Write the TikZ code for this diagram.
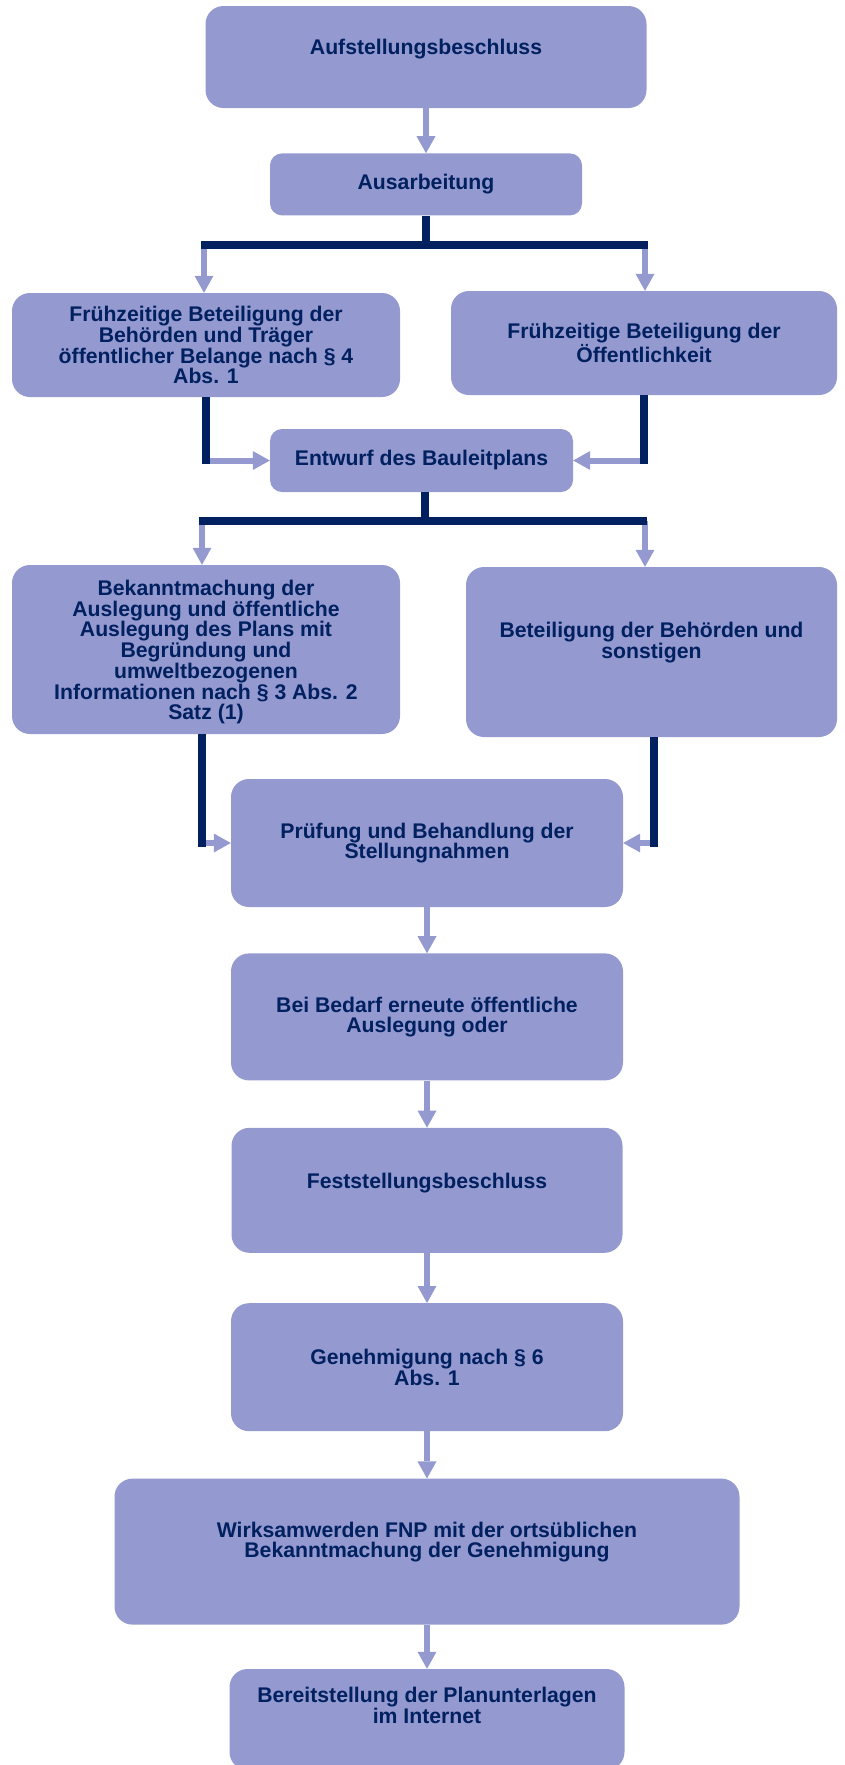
\documentclass[tikz,border=0pt]{standalone}
\usepackage{fontspec}
\setmainfont{Liberation Sans}
\usetikzlibrary{positioning,arrows.meta}
\definecolor{boxfill}{RGB}{148,153,208}
\definecolor{navy}{RGB}{0,32,96}
\begin{document}
\begin{tikzpicture}[x=1pt, y=-1pt, node distance=45pt,
  main node/.style={rectangle, rounded corners=18pt, fill=boxfill, text=navy, align=center, inner sep=0pt},
  small node/.style={main node, rounded corners=12pt},
  bus line/.style={draw=navy, line width=7.5pt},
  flow/.style={color=boxfill, line width=6pt, -{Triangle[width=19pt,length=17pt,line width=0pt]}}]
        \tikzstyle{every node}=[font=\fontsize{21.2}{19.8}\selectfont\bfseries]
        \useasboundingbox (0,0) rectangle (845,1765);

          \node[main node, minimum width=441pt, minimum height=102pt, text depth=20pt] (1) at (426,57) {Aufstellungsbeschluss};
          \node[small node, minimum width=312pt, minimum height=62pt] (2) [below=45pt of 1] {Ausarbeitung};
          \node[main node, minimum width=388pt, minimum height=104pt] (3) at (206,345) {Frühzeitige Beteiligung der\\Behörden und Träger\\öffentlicher Belange nach § 4\\Abs. 1};
          \node[main node, minimum width=386pt, minimum height=104pt] (4) at (644,343) {Frühzeitige Beteiligung der\\Öffentlichkeit};
          \node[small node, minimum width=303pt, minimum height=63pt] (5) at (421.5,460.5) {Entwurf des Bauleitplans};
          \node[main node, minimum width=388pt, minimum height=169pt, text depth=0pt] (6) at (206,649.5) {Bekanntmachung der\\Auslegung und öffentliche\\Auslegung des Plans mit\\Begründung und\\umweltbezogenen\\Informationen nach § 3 Abs. 2\\Satz (1)};
          \node[main node, minimum width=371pt, minimum height=170pt, text depth=24pt] (7) at (651.5,652) {Beteiligung der Behörden und\\sonstigen};
          \node[main node, minimum width=392pt, minimum height=128pt] (8) at (427,843) {Prüfung und Behandlung der\\Stellungnahmen};
          \node[main node, minimum width=392pt, minimum height=127pt] (9) [below=46pt of 8] {Bei Bedarf erneute öffentliche\\Auslegung oder};
          \node[main node, minimum width=391pt, minimum height=125pt, text depth=18pt] (10) [below=47pt of 9] {Feststellungsbeschluss};
          \node[main node, minimum width=392pt, minimum height=128pt] (11) [below=50pt of 10] {Genehmigung nach § 6\\Abs. 1};
          \node[main node, minimum width=625pt, minimum height=146pt, text depth=23pt] (12) [below=47pt of 11] {Wirksamwerden FNP mit der ortsüblichen\\Bekanntmachung der Genehmigung};
          \node[main node, minimum width=395pt, minimum height=101pt, text depth=29pt] (13) [below=44pt of 12] {Bereitstellung der Planunterlagen\\im Internet};

          \coordinate (b1) at (426,245);
          \coordinate (b1l) at (201,245);
          \coordinate (b1r) at (648,245);
          \coordinate (m1l) at (206,464);
          \coordinate (m1r) at (644,464);
          \coordinate (b2) at (425,521);
          \coordinate (b2l) at (199,521);
          \coordinate (b2r) at (647,521);
          \coordinate (m2l) at (202,847);
          \coordinate (m2r) at (654,847);

          \path[flow]
            (1) edge (2)
            (8) edge (9)
            (9) edge (10)
            (10) edge (11)
            (11) edge (12)
            (12) edge (13)
            (204,245) edge (3.north -| 204,0)
            (645,245) edge (4.north -| 645,0)
            (m1l |- 5.west) edge (5.west)
            (m1r |- 5.east) edge (5.east)
            (202,521) edge (6.north -| 202,0)
            (645,521) edge (7.north -| 645,0)
            (m2l |- 8.west) edge (8.west)
            (m2r |- 8.east) edge (8.east);

          \draw[bus line] (2) -- (b1) (b1l) -- (b1r);
          \draw[bus line] (3) -- (m1l) (4) -- (m1r);
          \draw[bus line] (5.south -| b2) -- (b2) (b2l) -- (b2r);
          \draw[bus line] (6.south -| m2l) -- (m2l) (7.south -| m2r) -- (m2r);

\end{tikzpicture}
\end{document}
